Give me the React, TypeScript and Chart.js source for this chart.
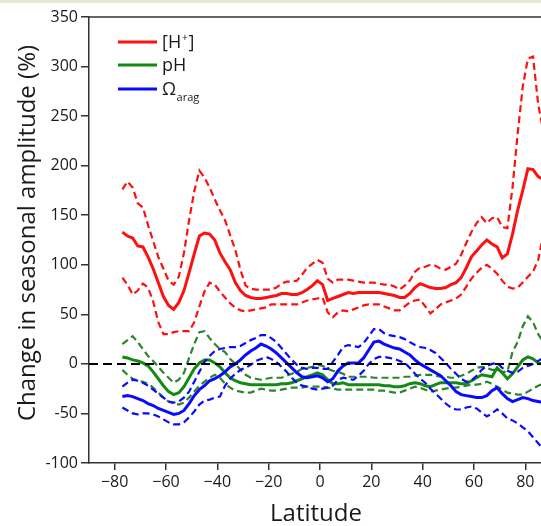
import { useEffect, useRef } from 'react';
import { Chart, registerables } from 'chart.js';

Chart.register(...registerables);

// Latitude grid shared by every series (degrees)
const latitude = [
  -77, -75, -73, -71, -69, -67, -65, -63, -61, -59, -57, -55, -53, -51, -49, -47, -45, -43, -41, -39,
  -37, -35, -33, -31, -29, -27, -25, -23, -21, -19, -17, -15, -13, -11, -9, -7, -5, -3, -1, 1,
  3, 5, 7, 9, 11, 13, 15, 17, 19, 21, 23, 25, 27, 29, 31, 33, 35, 37, 39, 41,
  43, 45, 47, 49, 51, 53, 55, 57, 59, 61, 63, 65, 67, 69, 71, 73, 75, 77, 79, 81,
  83, 85, 87, 89,
];

// [H+] change in seasonal amplitude (%): mean and spread
const hMid = [
  133, 129, 127, 119, 118, 108, 96, 82, 68, 59, 55, 62, 74, 92, 111, 129, 132, 131, 125, 112,
  103, 95, 82, 74, 69, 67, 66, 66, 67, 68, 69, 71, 71, 70, 70, 72, 75, 79, 84, 80,
  64, 66, 68, 70, 72, 71, 72, 72, 72, 72, 72, 71, 70, 69, 67, 67, 71, 77, 81, 79,
  77, 76, 76, 77, 80, 82, 87, 97, 108, 114, 120, 125, 121, 118, 107, 111, 131, 155, 175, 197,
  196, 189, 186, 182,
];
const hHi = [
  176, 184, 178, 162, 158, 140, 124, 108, 96, 84, 80, 88, 112, 145, 174, 195, 188, 178, 166, 155,
  145, 130, 115, 95, 79, 76, 75, 75, 75, 75, 77, 81, 83, 83, 84, 90, 97, 101, 105, 102,
  86, 82, 85, 85, 85, 84, 83, 82, 82, 82, 81, 80, 80, 78, 75, 79, 84, 93, 97, 98,
  100, 99, 96, 95, 98, 101, 110, 122, 133, 142, 148, 142, 147, 148, 138, 137, 178, 232, 280, 308,
  310, 262, 235, 215,
];
const hLo = [
  87, 80, 70, 74, 81, 77, 63, 42, 30, 30, 32, 33, 33, 33, 42, 58, 73, 82, 80, 73,
  67, 61, 57, 54, 53, 54, 55, 56, 57, 60, 60, 60, 60, 60, 60, 62, 64, 65, 66, 67,
  52, 47, 52, 54, 53, 55, 57, 59, 60, 60, 60, 58, 56, 54, 54, 58, 62, 64, 65, 58,
  51, 55, 60, 62, 64, 66, 70, 78, 86, 92, 97, 100, 96, 91, 84, 78, 76, 77, 82, 88,
  93, 105, 130, 150,
];

// pH change in seasonal amplitude (%)
const pMid = [
  7, 6, 4, 3, 1, -2, -8, -15, -22, -28, -31, -29, -23, -14, -5, 1, 4, 4, 1, -3,
  -9, -14, -17, -19, -20, -21, -21, -21, -21, -21, -21, -20, -20, -19, -17, -15, -13, -11, -9, -11,
  -16, -20, -20, -19, -21, -21, -21, -21, -21, -21, -21, -22, -22, -23, -23, -22, -20, -19, -20, -22,
  -23, -21, -19, -19, -19, -19, -20, -20, -17, -14, -11, -12, -13, -4, -9, -15, -10, -3, 4, 7,
  5, 1, 0, 0,
];
const pHi = [
  20, 24, 28, 22, 15, 8, 3, -3, -9, -14, -19, -16, -9, 6, 20, 32, 33, 26, 20, 15,
  12, 5, 0, -6, -11, -14, -15, -16, -15, -14, -14, -14, -12, -10, -8, -5, -4, -3, -1, -2,
  -5, -7, -8, -10, -13, -13, -13, -13, -13, -14, -14, -14, -14, -14, -14, -13, -13, -12, -11, -11,
  -11, -12, -13, -13, -14, -14, -12, -10, -7, -4, -3, -4, -6, -6, -8, -8, 12, 22, 38, 48,
  42, 30, 22, 18,
];
const pLo = [
  -6, -11, -15, -17, -18, -20, -24, -29, -34, -38, -40, -41, -39, -34, -28, -22, -18, -14, -11, -14,
  -20, -24, -27, -28, -29, -29, -27, -25, -26, -27, -27, -26, -25, -24, -24, -24, -23, -23, -23, -23,
  -24, -25, -26, -26, -26, -26, -26, -26, -26, -26, -27, -27, -28, -29, -29, -27, -25, -23, -24, -26,
  -28, -27, -26, -25, -24, -24, -23, -22, -21, -21, -20, -18, -20, -23, -26, -29, -30, -31, -31, -28,
  -25, -22, -20, -19,
];

// Aragonite saturation state change in seasonal amplitude (%)
const oMid = [
  -33, -32, -33, -35, -37, -40, -42, -45, -47, -49, -51, -50, -47, -40, -32, -26, -22, -17, -15, -12,
  -8, -3, 0, 4, 9, 13, 16, 20, 18, 15, 11, 6, 1, -4, -9, -13, -14, -13, -12, -14,
  -18, -15, -7, -2, 1, 1, 1, 6, 14, 22, 23, 20, 18, 16, 15, 12, 9, 4, 0, -3,
  -6, -9, -12, -17, -22, -28, -31, -32, -33, -34, -34, -32, -27, -24, -30, -35, -38, -36, -34, -35,
  -37, -38, -39, -40,
];
const oHi = [
  -23, -19, -16, -17, -19, -22, -26, -30, -34, -38, -39, -38, -34, -28, -18, -8, 2, 8, 13, 15,
  16, 17, 17, 18, 21, 24, 26, 29, 29, 26, 22, 16, 10, 4, -1, -4, -5, -4, -4, -5,
  -5, 2, 9, 17, 19, 18, 17, 21, 28, 35, 35, 31, 29, 28, 27, 25, 22, 19, 17, 16,
  14, 11, 6, 1, -5, -10, -15, -18, -17, -12, -6, -2, 0, 1, -4, -7, -9, -8, -4, -2,
  0, 3, 6, 8,
];
const oLo = [
  -44, -47, -50, -51, -50, -50, -51, -53, -56, -59, -61, -61, -59, -54, -48, -41, -37, -36, -34, -33,
  -22, -15, -10, -6, -4, -1, 3, 5, 7, 5, 2, -3, -8, -14, -19, -22, -23, -25, -26, -25,
  -24, -22, -16, -14, -15, -16, -12, -7, 0, 5, 7, 7, 6, 5, 3, 1, -4, -10, -15, -19,
  -25, -30, -35, -40, -44, -46, -46, -44, -43, -45, -49, -53, -50, -46, -50, -55, -57, -60, -64, -68,
  -74, -80, -86, -90,
];

// Zero reference line
const zeroLat = [-90, 90];
const zeroVal = [0, 0];

// Axis ticks
const xTicks = [-80, -60, -40, -20, 0, 20, 40, 60, 80];
const yTicks = [-100, -50, 0, 50, 100, 150, 200, 250, 300, 350];

const RED = '#ff1010';
const GREEN = '#138a13';
const GREEN_DASH = '#2c852c';
const BLUE = '#0a0aff';
const AXIS = '#333333';
const FONT = '"Open Sans", sans-serif';

const legendItems = [
  { color: RED, main: '[H', sup: '+', after: ']', sub: '' },
  { color: GREEN, main: 'pH', sup: '', after: '', sub: '' },
  { color: BLUE, main: '\u03A9', sup: '', after: '', sub: 'arag' },
];

const decor = {
  id: 'decor',
  afterDraw(chart: any) {
    const { ctx, chartArea } = chart;
    ctx.save();

    // top frame line
    ctx.strokeStyle = AXIS;
    ctx.lineWidth = 1.5;
    ctx.beginPath();
    ctx.moveTo(chartArea.left, chartArea.top);
    ctx.lineTo(chartArea.right, chartArea.top);
    ctx.stroke();

    // axis titles
    ctx.fillStyle = '#1a1a1a';
    ctx.font = `24px ${FONT}`;
    ctx.textAlign = 'center';
    ctx.textBaseline = 'alphabetic';
    ctx.fillText('Latitude', 316, 521);
    ctx.save();
    ctx.translate(35, 233);
    ctx.rotate(-Math.PI / 2);
    ctx.fillText('Change in seasonal amplitude (%)', 0, 0);
    ctx.restore();

    // legend
    const rows = [42, 65, 89];
    legendItems.forEach((it, i) => {
      const y = rows[i];
      ctx.strokeStyle = it.color;
      ctx.lineWidth = 3;
      ctx.beginPath();
      ctx.moveTo(118, y);
      ctx.lineTo(157, y);
      ctx.stroke();
      ctx.fillStyle = '#1a1a1a';
      ctx.textAlign = 'left';
      ctx.textBaseline = 'alphabetic';
      let x = 162;
      const base = y + 6;
      ctx.font = `18px ${FONT}`;
      ctx.fillText(it.main, x, base);
      x += ctx.measureText(it.main).width;
      if (it.sup) {
        ctx.font = `11px ${FONT}`;
        ctx.fillText(it.sup, x + 0.5, base - 7);
        x += ctx.measureText(it.sup).width + 1;
      }
      if (it.after) {
        ctx.font = `18px ${FONT}`;
        ctx.fillText(it.after, x, base);
      }
      if (it.sub) {
        ctx.font = `11px ${FONT}`;
        ctx.fillText(it.sub, x + 0.5, base + 5.5);
      }
    });

    ctx.restore();
  },
};

export default function App() {
  const ref = useRef<HTMLCanvasElement>(null);

  useEffect(() => {
    const pts = (ys: number[]) => ys.map((y, i) => ({ x: latitude[i], y }));
    const solid = (data: number[], color: string, order: number) => ({
      data: pts(data),
      borderColor: color,
      borderWidth: 3,
      pointRadius: 0,
      tension: 0,
      fill: false,
      order,
    });
    const dashed = (data: number[], color: string, order: number) => ({
      data: pts(data),
      borderColor: color,
      borderWidth: 2.2,
      borderDash: [7, 4],
      pointRadius: 0,
      tension: 0,
      fill: false,
      order,
    });

    const chart = new Chart(ref.current as HTMLCanvasElement, {
      type: 'line',
      data: {
        datasets: [
          {
            data: zeroLat.map((x, i) => ({ x, y: zeroVal[i] })),
            borderColor: '#000000',
            borderWidth: 2,
            borderDash: [9, 5],
            pointRadius: 0,
            fill: false,
            order: 0,
          },
          solid(hMid, RED, 1),
          dashed(hHi, RED, 2),
          dashed(hLo, RED, 2),
          solid(oMid, BLUE, 3),
          dashed(oHi, BLUE, 4),
          dashed(oLo, BLUE, 4),
          solid(pMid, GREEN, 5),
          dashed(pHi, GREEN_DASH, 6),
          dashed(pLo, GREEN_DASH, 6),
        ] as any,
      },
      options: {
        animation: false,
        responsive: false,
        events: [],
        layout: { padding: { top: 17, right: 10, left: 0, bottom: 0 } },
        plugins: { legend: { display: false }, tooltip: { enabled: false } },
        scales: {
          x: {
            type: 'linear',
            min: -90,
            max: 90,
            afterBuildTicks: (s: any) => {
              s.ticks = xTicks.map((v) => ({ value: v }));
            },
            afterFit: (s: any) => {
              s.height = 63;
            },
            grid: { drawOnChartArea: false, tickLength: 7, color: AXIS, lineWidth: 1.5 },
            border: { display: true, color: AXIS, width: 1.5 },
            ticks: {
              padding: 3,
              color: '#1a1a1a',
              font: { family: FONT, size: 16 },
              maxRotation: 0,
              callback: (v: any) => (Number(v) < 0 ? '\u2212' + Math.abs(Number(v)) : String(v)),
            },
          },
          y: {
            type: 'linear',
            min: -100,
            max: 350,
            afterBuildTicks: (s: any) => {
              s.ticks = yTicks.map((v) => ({ value: v }));
            },
            afterFit: (s: any) => {
              s.width = 89;
            },
            grid: { drawOnChartArea: false, tickLength: 8, color: AXIS, lineWidth: 1.5 },
            border: { display: true, color: AXIS, width: 1.5 },
            ticks: {
              padding: 3,
              color: '#1a1a1a',
              font: { family: FONT, size: 16 },
              callback: (v: any) => String(v),
            },
          },
        },
      },
      plugins: [decor],
    });
    return () => chart.destroy();
  }, []);

  return (
    <div
      style={{
        position: 'fixed',
        left: 0,
        top: 0,
        width: 541,
        height: 526,
        overflow: 'hidden',
        background: '#ffffff',
      }}
    >
      <canvas
        ref={ref}
        width={561}
        height={526}
        style={{ position: 'absolute', left: 0, top: 0, width: 561, height: 526 }}
      />
      <div
        style={{
          position: 'absolute',
          left: 0,
          top: 0,
          width: 541,
          height: 3,
          background: '#e3e9cf',
        }}
      />
    </div>
  );
}
